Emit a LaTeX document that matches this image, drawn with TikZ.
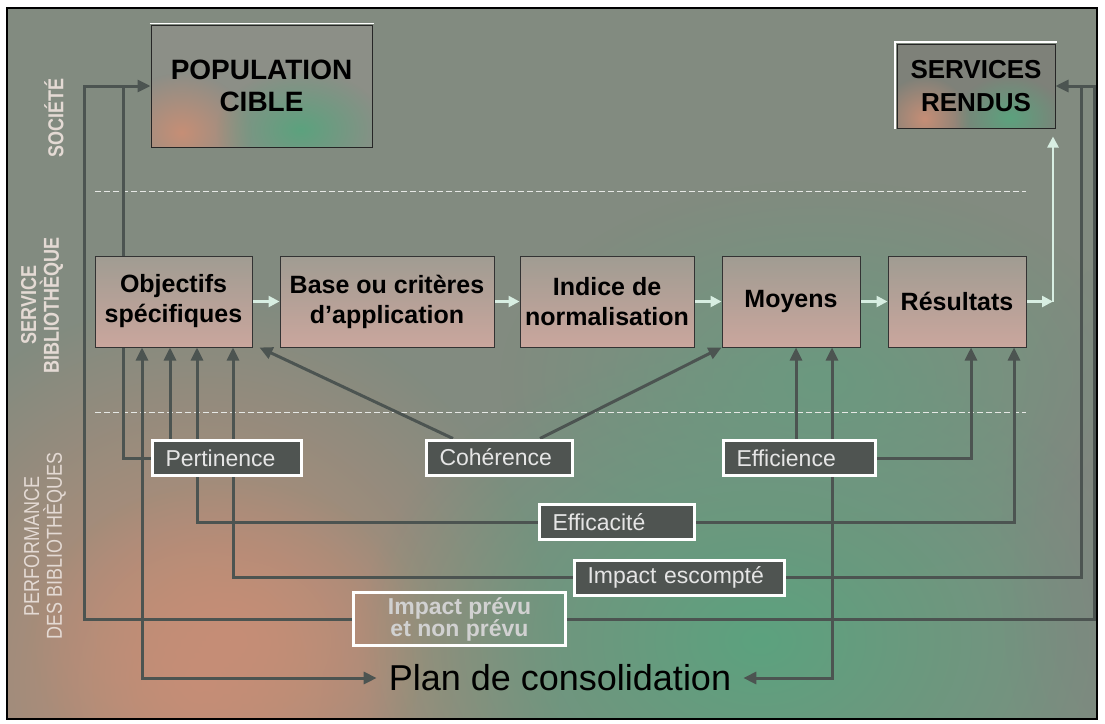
\documentclass[tikz,border=0pt]{standalone}
\usepackage{fontspec}
\setmainfont{Liberation Sans}
\usetikzlibrary{arrows.meta,fadings,calc}

\definecolor{fond}{HTML}{828B80}
\definecolor{fondsaumon}{HTML}{C68E76}
\definecolor{fondvert}{HTML}{5CA27E}
\definecolor{popfond}{HTML}{8C8F87}
\definecolor{gristrait}{HTML}{4C5451}
\definecolor{fleche}{HTML}{D8EEE2}
\definecolor{etiquette}{HTML}{4F5451}
\definecolor{etapehaut}{HTML}{A09C92}
\definecolor{etapebas}{HTML}{CAA69D}
\definecolor{zone}{HTML}{E4DAD4}

\tikzfading[name=flou, inner color=transparent!0, outer color=transparent!100]

\pgfdeclarelayer{fond}
\pgfdeclarelayer{liens}
\pgfsetlayers{fond,liens,main}

\tikzset{every picture/.style={line width=0.75pt}}
\tikzset{
  etape/.style={draw=black!80, line width=1pt, top color=etapehaut, bottom color=etapebas, minimum height=91pt, inner sep=0pt, align=center, text=black, font=\fontsize{25}{30}\selectfont\bfseries},
  critere/.style={fill=etiquette, draw=white, line width=3pt, minimum height=35pt, inner xsep=13pt, inner ysep=0pt, align=left, text=white!90!black, font=\fontsize{23}{26}\selectfont},
  lien/.style={draw=gristrait, line width=3pt},
  suite/.style={draw=fleche, line width=2.5pt, -{Triangle[length=11pt,width=11pt]}},
  zonetxt/.style={rotate=90, yscale=1.2, text=zone, align=center, inner sep=0pt},
  >={Triangle[length=13pt,width=12pt]}
}

\begin{document}
\begin{tikzpicture}[x=1pt,y=1pt,yscale=-1,xscale=1]
\useasboundingbox (0,0) rectangle (1105,723);

%Shape: Rectangle [background]
\begin{pgfonlayer}{fond}
\fill[fond] (7,8) rectangle (1097,719);
\begin{scope}
\clip (7,8) rectangle (1097,719);
\fill[fondsaumon, path fading=flou] (200,680) ellipse (360pt and 380pt);
\fill[fondsaumon, path fading=flou] (230,640) ellipse (200pt and 160pt);
\fill[fondvert, path fading=flou] (760,640) ellipse (400pt and 300pt);
\fill[fondvert!60!fond, path fading=flou] (820,380) ellipse (320pt and 200pt);
\fill[gray, opacity=0.5, path fading=flou] (1120,560) ellipse (120pt and 300pt);
\end{scope}
\draw[black, line width=2pt] (7,8) rectangle (1097,719);
% dashed separators
\draw[white!80!fond, line width=1pt, dash pattern=on 6pt off 3pt] (95,191) -- (1026,191);
\draw[white!80!fond, line width=1pt, dash pattern=on 6pt off 3pt] (95,412) -- (1026,412);
\end{pgfonlayer}

% Text Node
\node (societe) at (54,118) [zonetxt, font=\fontsize{18}{19}\selectfont\bfseries] {SOCIÉTÉ};
% Text Node
\node (service) at (42,305) [zonetxt, font=\fontsize{18}{19}\selectfont\bfseries] {SERVICE\\BIBLIOTHÈQUE};
% Text Node
\node (perf) at (45,546) [zonetxt, font=\fontsize{18}{19}\selectfont] {PERFORMANCE\\DES BIBLIOTHÈQUES};

% Text Node
\node (pop) at (261.5,86) [draw=black!85, line width=1pt, minimum width=221pt, minimum height=122pt, inner sep=0pt, align=center, font=\fontsize{28}{32}\selectfont\bfseries] {POPULATION\\CIBLE};
% Text Node
\node (serv) at (976,86) [draw=black!85, line width=1pt, minimum width=158pt, minimum height=84pt, inner sep=0pt, align=center, font=\fontsize{26}{33}\selectfont\bfseries] {SERVICES\\RENDUS};
\draw[white, line width=1pt] ($(pop.north west)+(-1,-1)$) -- ($(pop.north east)+(1,-1)$);
\draw[white, line width=2.5pt] ($(serv.south west)+(-1.5,0)$) |- ($(serv.north east)+(1,-1.5)$);

%Rounded Rect [box fills]
\begin{pgfonlayer}{fond}
\fill[popfond] (pop.north west) rectangle (pop.south east);
\begin{scope}
\clip (pop.north west) rectangle (pop.south east);
\fill[fondsaumon, path fading=flou] ($(pop.south west)+(31,-15)$) ellipse (70pt and 60pt);
\fill[fondvert, path fading=flou] ($(pop.south west)+(150,-18)$) ellipse (85pt and 60pt);
\end{scope}
\fill[popfond!90!black] (serv.north west) rectangle (serv.south east);
\begin{scope}
\clip (serv.north west) rectangle (serv.south east);
\fill[fondsaumon, path fading=flou] ($(serv.south west)+(28,-10)$) ellipse (45pt and 42pt);
\fill[fondvert, path fading=flou] ($(serv.south west)+(113,-11)$) ellipse (55pt and 42pt);
\end{scope}
\end{pgfonlayer}

% Text Node
\node (obj) at (173.5,301.5) [etape, minimum width=157pt] {Objectifs\\spécifiques};
% Text Node
\node (base) at (387,301.5) [etape, minimum width=214pt] {Base ou critères\\d’application};
% Text Node
\node (ind) at (607,301.5) [etape, minimum width=174pt] {Indice de\\normalisation};
% Text Node
\node (moy) at (791,301.5) [etape, minimum width=138pt] {Moyens};
% Text Node
\node (res) at (957,301.5) [etape, minimum width=138pt] {Résultats};

% Text Node
\node (pert) at (227,458) [critere, text width=123pt] {Pertinence};
% Text Node
\node (coh) at (499.5,457.5) [critere, text width=120pt] {Cohérence};
% Text Node
\node (effi) at (799.5,458) [critere, text width=126pt] {Efficience};
% Text Node
\node (effa) at (617,522) [critere, text width=129pt] {Efficacité};
% Text Node
\node (impe) at (679.5,577.5) [critere, text width=184pt] {Impact escompté};
% Text Node
\node (impp) at (459.5,619) [draw=white, line width=3pt, minimum width=212pt, minimum height=53pt, inner sep=0pt, align=center, text=white!82!black, font=\fontsize{23}{22}\selectfont\bfseries] {Impact prévu\\et non prévu};
% Text Node
\node (plan) at (560,678) [inner xsep=12pt, inner ysep=2pt, font=\fontsize{36}{40}\selectfont] {Plan de consolidation};

\coordinate (cpop) at (84,86);
\coordinate (cpert) at (123,86);
\coordinate (cserva) at (1081,86);
\coordinate (cservb) at (1094,86);
\coordinate (xplan) at (142,0);
\coordinate (xpert) at (170,0);
\coordinate (xeffa) at (197,0);
\coordinate (ximpe) at (233,0);
\coordinate (xeffi) at (796,0);
\coordinate (xplanb) at (832,0);
\coordinate (xeffib) at (971,0);
\coordinate (xeffab) at (1014,0);
\coordinate (csuite) at (1053,301.5);

\begin{pgfonlayer}{liens}
% Connection
\draw[suite] (obj) -- (base);
\draw[suite] (base) -- (ind);
\draw[suite] (ind) -- (moy);
\draw[suite] (moy) -- (res);
\draw[suite] (res.east) -- (csuite);
\draw[suite] (csuite) -- ($(serv.south -| csuite)+(0,8)$);
% Connection
\draw[lien, ->] (impp.west) -| (cpop) -- (cpop -| pop.west);
\draw[lien, ->] (impp.east) -| (cservb) -- (cservb -| serv.east);
\draw[lien] (impe.east) -| (cserva);
\draw[lien] (pert.west) -| (cpert);
\draw[lien, ->] (pert.north -| xpert) -- (obj.south -| xpert);
\draw[lien, <->] (obj.south -| xplan) |- (plan.west);
\draw[lien, ->] (effa.west) -| (obj.south -| xeffa);
\draw[lien, ->] (impe.west) -| (obj.south -| ximpe);
% Connection
\draw[lien, ->] ($(coh.north west)+(28,0)$) -- ($(obj.south east)+(7,0)$);
\draw[lien, ->] ($(coh.north east)+(-34,0)$) -- (moy.south west);
% Connection
\draw[lien, ->] (effi.north -| xeffi) -- (moy.south -| xeffi);
\draw[lien, <->] (plan.east) -| (moy.south -| xplanb);
\draw[lien, ->] (effi.east) -| (res.south -| xeffib);
\draw[lien, ->] (effa.east) -| (res.south -| xeffab);
\end{pgfonlayer}

\end{tikzpicture}
\end{document}
